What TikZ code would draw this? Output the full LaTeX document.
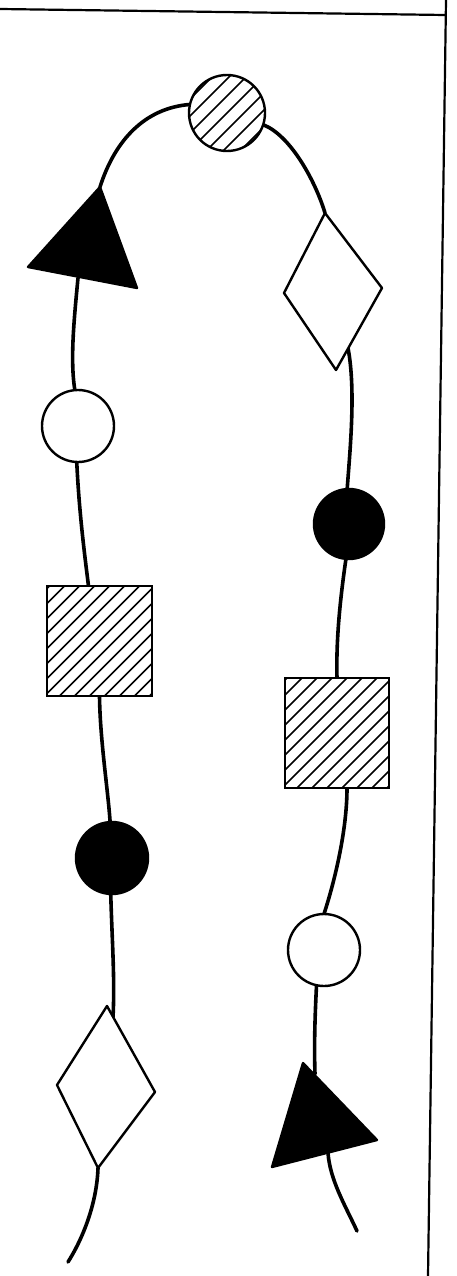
\documentclass[tikz,border=0pt]{standalone}
\usepackage{tikz}
\usetikzlibrary{backgrounds}
\begin{document}
\begin{tikzpicture}[x=1pt,y=-1pt,
    bead/.style={draw,line width=2.4pt,inner sep=0pt,outer sep=0pt,fill=white},
    ball/.style={bead,circle,minimum size=72pt},
    brick/.style={bead,rectangle,minimum width=105pt,minimum height=110pt},
    hatch/.style={path picture={\foreach \k in {-9,...,9}
        \draw[line width=1.6pt]([xshift=\k*#1pt]path picture bounding box.center)++(-90pt,-90pt)--++(180pt,180pt);}},
    hatch/.default=15,
    gem/.style={draw,line width=2.4pt,line join=round},
    thread/.style={line width=3.6pt,line cap=round}]
                \useasboundingbox (0,0) rectangle (457,1276);
                \draw[line width=2.2pt] (0,9) -- (445,15);
                \draw[line width=2.2pt] (446,0) -- (428,1276);
                % beads
                \node[ball,hatch=17,minimum size=76pt] (c1) at (227,113) {};
                \node[ball] (c2) at (78,426) {};
                \node[brick,hatch] (s1) at (99.5,641) {};
                \node[ball,fill=black] (c3) at (112,858) {};
                \node[ball,fill=black,minimum size=70pt] (c4) at (349,524) {};
                \node[brick,hatch,minimum width=104pt] (s2) at (337,733) {};
                \node[ball] (c5) at (324,950) {};
                % corners
                \coordinate (t1a) at (28,267); \coordinate (t1b) at (100,187); \coordinate (t1c) at (137,288);
                \coordinate (d1t) at (325,213); \coordinate (d1r) at (382,288); \coordinate (d1b) at (336,370); \coordinate (d1l) at (284,293);
                \coordinate (d2t) at (107,1006); \coordinate (d2r) at (155,1092); \coordinate (d2b) at (98,1168); \coordinate (d2l) at (57,1085);
                \coordinate (t2a) at (303,1063); \coordinate (t2b) at (377,1140); \coordinate (t2c) at (272,1167);
                \fill[gem,fill=black] (t1a) -- (t1b) -- (t1c) -- cycle;
                \draw[gem,fill=white] (d1t) -- (d1r) -- (d1b) -- (d1l) -- cycle;
                \draw[gem,fill=white] (d2t) -- (d2r) -- (d2b) -- (d2l) -- cycle;
                \fill[gem,fill=black] (t2a) -- (t2b) -- (t2c) -- cycle;
                \coordinate (t1o) at (78,278); \coordinate (d1o) at (348,348);
                \coordinate (d2i) at (113,1017); \coordinate (e1) at (68,1262);
                \coordinate (t2i) at (315,1074); \coordinate (t2o) at (328,1153); \coordinate (e2) at (357,1231);
                % thread
                \begin{scope}[on background layer]
                \draw[thread] (t1b) .. controls (115,140) and (145,108) .. (c1.167);
                \draw[thread] (c1.-18) .. controls (290,135) and (315,180) .. (d1t);
                \draw[thread] (t1o) .. controls (74,320) and (70,360) .. (c2.95);
                \draw[thread] (c2.-92) .. controls (79,510) and (84,550) .. ([xshift=-11pt]s1.north);
                \draw[thread] (s1.south) .. controls (100,740) and (108,790) .. (c3.93);
                \draw[thread] (c3.-92) .. controls (112,940) and (115,980) .. (d2i);
                \draw[thread] (d2b) .. controls (97,1200) and (85,1235) .. (e1);
                \draw[thread] (d1o) .. controls (356,390) and (350,450) .. (c4.93);
                \draw[thread] (c4.-95) .. controls (340,600) and (336,640) .. (s2.north);
                \draw[thread] ([xshift=10pt]s2.south) .. controls (347,830) and (335,880) .. (c5.north);
                \draw[thread] (c5.-102) .. controls (315,1015) and (314,1045) .. (t2i);
                \draw[thread] (t2o) .. controls (330,1180) and (345,1205) .. (e2);
                \end{scope}
            \end{tikzpicture}
\end{document}
